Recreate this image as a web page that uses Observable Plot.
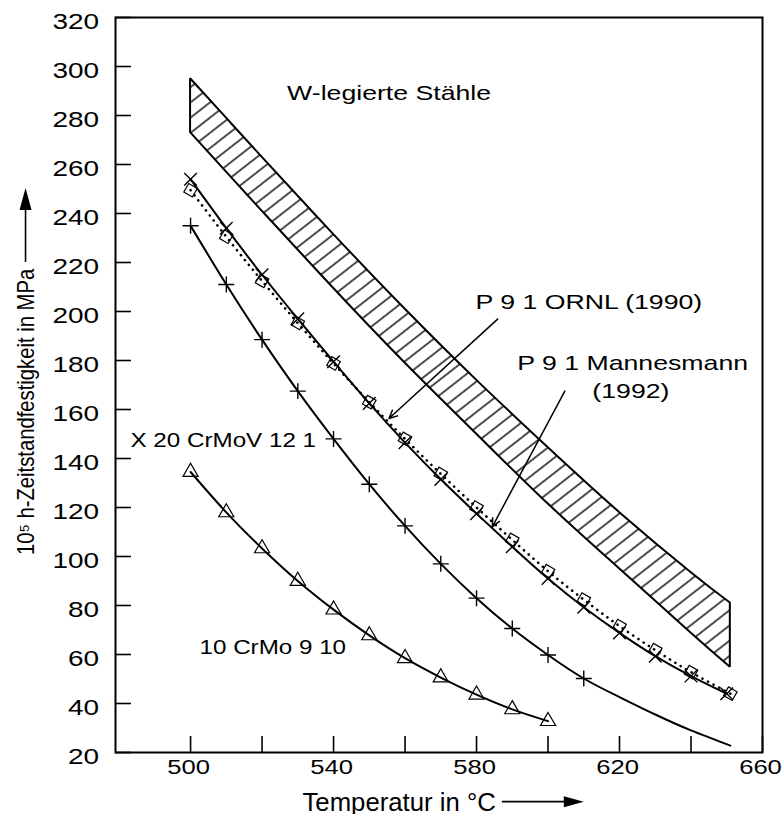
<!DOCTYPE html>
<html>
<head>
<meta charset="utf-8">
<script src="https://cdn.jsdelivr.net/npm/d3@7"></script>
<script src="https://cdn.jsdelivr.net/npm/@observablehq/plot@0.6"></script>
<style>
  html, body { margin: 0; padding: 0; background: #fff; }
</style>
</head>
<body>
<script>
// ---------- data ----------
// 10 CrMo 9 10 (triangles)
const crmoTemp   = [500, 510, 520, 530, 540, 550, 560, 570, 580, 590, 600];
const crmoStress = [134.5, 118, 103.3, 90, 78.3, 67.8, 58.5, 50.6, 43.6, 37.6, 32.8];

// X 20 CrMoV 12 1 (plus markers) and its fitted curve
const crmovTemp   = [500, 510, 520, 530, 540, 550, 560, 570, 580, 590, 600, 610];
const crmovStress = [235, 211, 188.5, 167.5, 148, 129.5, 112.5, 97, 83, 70.6, 59.8, 50.2];
const crmovCurveTemp   = [500, 510, 520, 530, 540, 550, 560, 570, 580, 590, 600, 610, 620, 630, 640, 651];
const crmovCurveStress = [235, 211, 188.5, 167.5, 148, 129.5, 112.5, 97, 83, 70.6, 59.8, 50.2, 42.6, 35.5, 29, 22.8];

// P 9 1 Mannesmann (1992) (x markers, solid line)
const mannTemp   = [500, 510, 520, 530, 540, 550, 560, 570, 580, 590, 600, 610, 620, 630, 640, 650];
const mannStress = [254, 234, 215, 197, 179.5, 162.5, 146.5, 131.5, 117.5, 104, 91, 79.3, 68.8, 59.3, 51.2, 44];

// P 9 1 ORNL (1990) (open squares, dotted line)
const ornlTemp   = [500, 510, 520, 530, 540, 550, 560, 570, 580, 590, 600, 610, 620, 630, 640, 651];
const ornlStress = [249.5, 230.5, 212.5, 195.3, 178.8, 163, 148, 133.7, 120, 106.8, 94, 82.4, 71.6, 61.8, 52.8, 44];

// W-legierte Stähle scatter band
const bandTemp  = [500, 510, 520, 540, 560, 580, 600, 620, 640, 651];
const bandUpper = [295, 279, 263, 231.5, 201, 172, 144.5, 118, 93.5, 81];
const bandLower = [273, 257, 241, 209.5, 179, 150, 121.5, 95, 68.8, 54.8];

// annotations
const labelsA = ["W-legierte Stähle", "P 9 1 ORNL (1990)", "P 9 1 Mannesmann", "(1992)"];
const labelsAX = [527.0, 579.7, 591.4, 612.4];
const labelsAY = [286.2, 201.2, 176.0, 164.5];
const labelsB = ["X 20 CrMoV 12 1", "10 CrMo 9 10"];
const labelsBX = [483.2, 502.5];
const labelsBY = [144.7, 60.1];
const leaderX1 = [585.9, 604.7];
const leaderY1 = [196.9, 167.5];
const leaderX2 = [555.5, 584.4];
const leaderY2 = [156.3, 112.1];

// axes
const xTicks = [500, 520, 540, 560, 580, 600, 620, 640, 660];
const xTickLabels = [500, 540, 580, 620, 660];
const yTicks = [20, 40, 60, 80, 100, 120, 140, 160, 180, 200, 220, 240, 260, 280, 300, 320];
const xTitle = "Temperatur in °C";
const yTitle = "10⁵ h-Zeitstandfestigkeit in MPa";

// ---------- tables ----------
const zip = (xs, ys) => xs.map((x, i) => ({x, y: ys[i]}));
const crmo = zip(crmoTemp, crmoStress);
const crmov = zip(crmovTemp, crmovStress);
const crmovCurve = zip(crmovCurveTemp, crmovCurveStress);
const mann = zip(mannTemp, mannStress);
const ornl = zip(ornlTemp, ornlStress);
const band = bandTemp.map((t, i) => ({x: t, lo: bandLower[i], hi: bandUpper[i]}));
const annA = labelsA.map((t, i) => ({text: t, x: labelsAX[i], y: labelsAY[i]}));
const annB = labelsB.map((t, i) => ({text: t, x: labelsBX[i], y: labelsBY[i]}));
const leaders = leaderX1.map((x1, i) => ({x1, y1: leaderY1[i], x2: leaderX2[i], y2: leaderY2[i]}));

const tag = (name) => () => name;

const plot = Plot.plot({
  width: 782,
  height: 814,
  marginLeft: 115,
  marginRight: 20,
  marginTop: 17,
  marginBottom: 62,
  style: {fontFamily: "'Liberation Sans', Arial, sans-serif", background: "#fff", color: "#000", overflow: "visible"},
  x: {domain: [479, 660]},
  y: {domain: [20, 320]},
  marks: [
    Plot.areaY(band, {x: "x", y1: "lo", y2: "hi", fill: "url(#hatch)", stroke: "#000", strokeWidth: 2, strokeLinejoin: "miter", curve: "natural"}),
    Plot.line(crmo, {x: "x", y: "y", stroke: "#000", strokeWidth: 2, curve: "natural"}),
    Plot.line(crmovCurve, {x: "x", y: "y", stroke: "#000", strokeWidth: 2, curve: "natural"}),
    Plot.line(mann, {x: "x", y: "y", stroke: "#000", strokeWidth: 2, curve: "natural"}),
    Plot.line(ornl, {x: "x", y: "y", stroke: "#000", strokeWidth: 2.6, strokeDasharray: "0.1,6.2", strokeLinecap: "round", curve: "natural"}),
    Plot.dot(crmo, {x: "x", y: "y", symbol: "triangle", r: 5.6, fill: "none", stroke: "#000", strokeWidth: 1.2}),
    Plot.dot(crmov, {x: "x", y: "y", symbol: "plus", r: 5.2, fill: "none", stroke: "#000", strokeWidth: 1.4}),
    Plot.dot(mann, {x: "x", y: "y", symbol: "times", r: 5.8, fill: "none", stroke: "#000", strokeWidth: 1.4}),
    Plot.dot(ornl, {x: "x", y: "y", symbol: "square", r: 5.6, rotate: 30, fill: "none", stroke: "#000", strokeWidth: 1.2}),
    Plot.arrow(leaders, {x1: "x1", y1: "y1", x2: "x2", y2: "y2", stroke: "#000", strokeWidth: 1.5, headLength: 9, headAngle: 50}),
    Plot.text(annA, {x: "x", y: "y", text: "text", textAnchor: "start", lineAnchor: "bottom", fontSize: 21, fill: "#000", ariaLabel: tag("labels-a")}),
    Plot.text(annB, {x: "x", y: "y", text: "text", textAnchor: "start", lineAnchor: "bottom", fontSize: 20, fill: "#000", ariaLabel: tag("labels-b")}),
    Plot.axisX({ticks: xTicks, tickSize: -16, strokeWidth: 1.6, fill: "none", label: null}),
    Plot.axisX({ticks: xTickLabels, tickSize: 0, tickPadding: 7, dx: -2, fontSize: 21, label: null}),
    Plot.axisY({ticks: yTicks, tickSize: -16, strokeWidth: 1.6, fill: "none", label: null}),
    Plot.axisY({ticks: yTicks, tickSize: 0, tickPadding: 16.5, dy: 4, fontSize: 22, label: null}),
    Plot.text([xTitle], {frameAnchor: "bottom", textAnchor: "start", lineAnchor: "bottom", dx: -136.5, dy: 58, fontSize: 25, fill: "#000", ariaLabel: tag("x-title")}),
    Plot.text([yTitle], {frameAnchor: "left", rotate: -90, textAnchor: "start", lineAnchor: "bottom", dx: -82, dy: 170, fontSize: 23, fill: "#000", ariaLabel: tag("y-title")}),
    Plot.frame({stroke: "#000", strokeWidth: 2})
  ]
});

document.body.append(plot);
const svg = d3.select(plot);

// hatch pattern for the scatter band
svg.insert("defs", ":first-child").html(
  `<pattern id="hatch" patternUnits="userSpaceOnUse" width="12" height="12" patternTransform="rotate(-38)">
     <line x1="-2" y1="6" x2="14" y2="6" stroke="#000" stroke-width="1.4"/>
   </pattern>`
);

// horizontal stretch of the scanned lettering
function stretch(selector, sx) {
  svg.selectAll(selector).each(function() {
    const t = this.getAttribute("transform") || "";
    this.setAttribute("transform", `${t} scale(${sx},1)`);
  });
}
stretch('g[aria-label="x-axis tick label"] text', 1.22);
stretch('g[aria-label="y-axis tick label"] text', 1.27);
stretch('text[aria-label="labels-a"]', 1.27);
stretch('text[aria-label="labels-b"]', 1.21);
stretch('text[aria-label="x-title"]', 1.03);
stretch('text[aria-label="y-title"]', 0.88);

// axis title arrows, placed after the measured titles
const deco = svg.append("g").attr("aria-label", "title-arrows");
const svgBox = plot.getBoundingClientRect();
const xtNode = svg.select('text[aria-label="x-title"]').node();
if (xtNode) {
  const xt = xtNode.getBoundingClientRect();
  const ax0 = xt.right - svgBox.left + 6, ay = xt.top - svgBox.top + xt.height / 2;
  deco.append("line").attr("x1", ax0).attr("x2", ax0 + 64).attr("y1", ay).attr("y2", ay).attr("stroke", "#000").attr("stroke-width", 1.6);
  deco.append("path").attr("d", `M${ax0 + 62},${ay - 5.5}L${ax0 + 82},${ay}L${ax0 + 62},${ay + 5.5}Z`).attr("fill", "#000");
}
const ytNode = svg.select('text[aria-label="y-title"]').node();
if (ytNode) {
  const yt = ytNode.getBoundingClientRect();
  const bx = yt.left - svgBox.left + yt.width / 2, by0 = yt.top - svgBox.top - 6;
  deco.append("line").attr("y1", by0).attr("y2", by0 - 54).attr("x1", bx).attr("x2", bx).attr("stroke", "#000").attr("stroke-width", 1.6);
  deco.append("path").attr("d", `M${bx - 6},${by0 - 52}L${bx},${by0 - 74}L${bx + 6},${by0 - 52}Z`).attr("fill", "#000");
}
</script>
</body>
</html>
